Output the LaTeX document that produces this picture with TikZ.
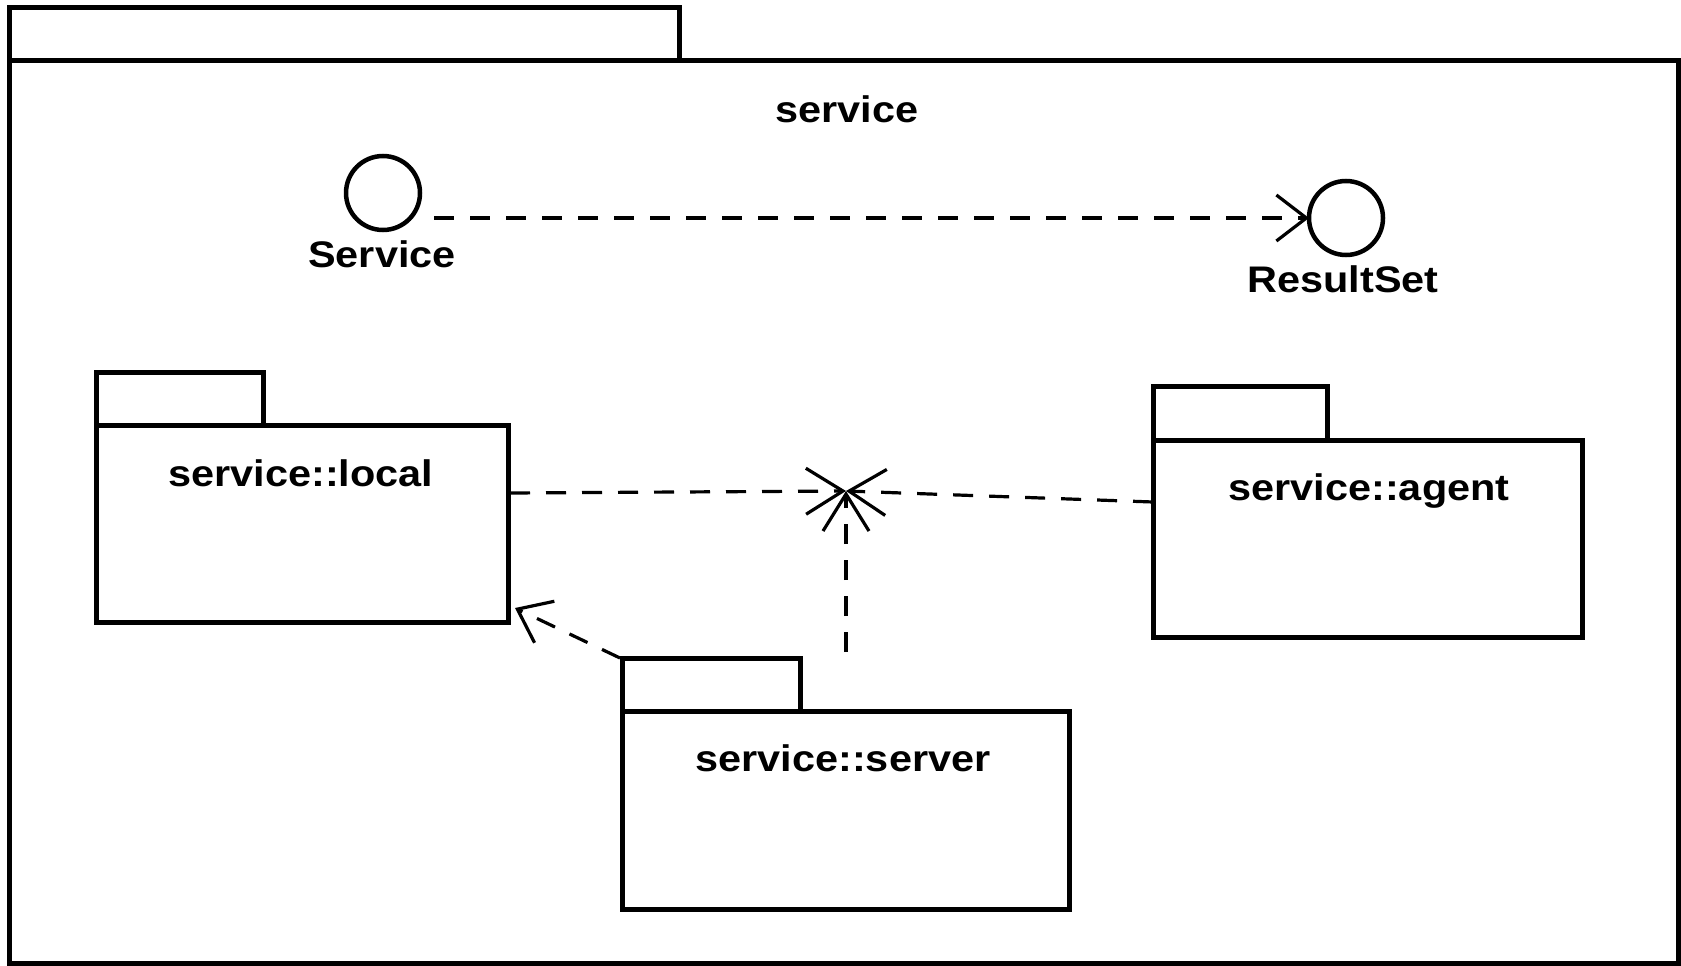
\documentclass[tikz,border=0pt]{standalone}
\usepackage{fontspec}
\setmainfont[FakeStretch=1.12]{Liberation Sans}
\usetikzlibrary{arrows.meta}
\begin{document}
\begin{tikzpicture}[x=1pt,y=-1pt,
  pkgline/.style={draw=black,line width=5pt},
  pkgbody/.style={draw=black,line width=5pt,rectangle,anchor=north west,inner sep=0pt,outer sep=0pt},
  lbl/.style={anchor=base,font=\bfseries\fontsize{37}{44}\selectfont,inner sep=0pt},
  dep/.style={draw=black,line width=3.2pt,dash pattern=on 20pt off 16pt,-{Straight Barb[length=30pt,width=46pt]}},
  hubdep/.style={dep,-{Straight Barb[length=37pt,width=46pt]}},
  iface/.style={circle,draw=black,line width=4.5pt,minimum size=74pt,inner sep=0pt,outer sep=0pt}]
\useasboundingbox (0,0) rectangle (1681,966);
% outer package
\draw[pkgline] (9,61) -- (9,8) -- (679,8) -- (679,61);
\node[pkgbody,minimum width=1669pt,minimum height=902pt] (root) at (9,61) {};
\node[lbl] (roottitle) at (847,122) {service};
% interfaces
\node[iface] (svc) at (383,193) {};
\node[lbl] (svclbl) at (382,267) {Service};
\node[iface] (rs) at (1346,218) {};
\node[lbl] (rslbl) at (1343,292) {ResultSet};
% packages
\node[pkgbody,minimum width=411.5pt,minimum height=196.4pt] (local) at (96.5,425.6) {};
\draw[pkgline] (96.5,425.6) -- (96.5,372) -- (263,372) -- (263,425.6);
\node[lbl] (locallbl) at (301,486) {service::local};
\node[pkgbody,minimum width=428.4pt,minimum height=197pt] (agent) at (1153.6,440) {};
\draw[pkgline] (1153.6,440) -- (1153.6,386) -- (1327,386) -- (1327,440);
\node[lbl] (agentlbl) at (1369,500) {service::agent};
\node[pkgbody,minimum width=447pt,minimum height=198pt] (server) at (622,711) {};
\draw[pkgline] (622,711) -- (622,658) -- (800,658) -- (800,711);
\node[lbl] (serverlbl) at (843,771) {service::server};
% connectors
\coordinate (svcout) at (434,218);
\draw[dep] (svcout) -- (rs.west);
\coordinate (hub) at (846,491);
\coordinate (lo) at (510,493);
\coordinate (ag) at (1153,502);
\coordinate (sv) at (846,652);
\draw[hubdep] (lo) -- (hub);
\draw[hubdep] (ag) -- (hub);
\draw[hubdep] (sv) -- (hub);
\coordinate (svtab) at (620,658);
\coordinate (lotip) at (515,608);
\draw[dep] (svtab) -- (lotip);
\end{tikzpicture}
\end{document}
